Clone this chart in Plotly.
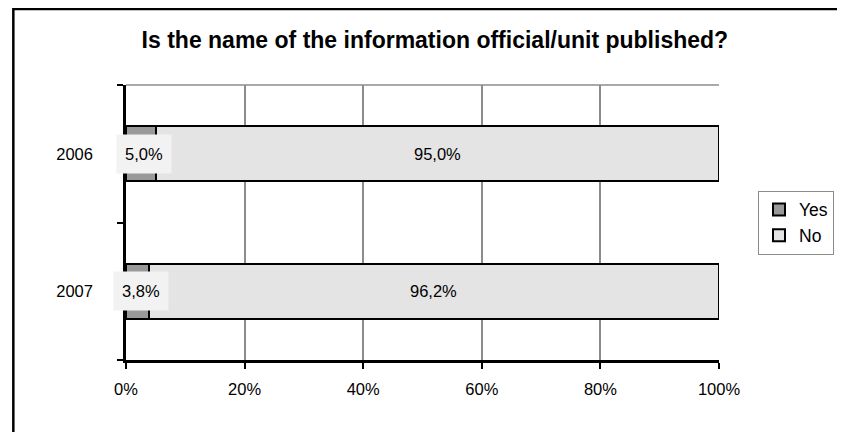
import plotly.graph_objects as go

years = ["2006", "2007"]
yes_pct = [5.0, 3.8]
no_pct = [95.0, 96.2]
x_ticks = [0, 20, 40, 60, 80, 100]

FONT = "Liberation Sans, Arial, sans-serif"
YES_COL = "#999999"
NO_COL = "#e4e4e4"
GRID = "#8c8c8c"


def fmt(v):
    return f"{v:.1f}".replace(".", ",") + "%"


# numeric positions, 2006 on top
ypos = [1, 0]

fig = go.Figure()
fig.add_trace(go.Bar(
    y=ypos, x=yes_pct, name="Yes", orientation="h", width=0.4,
    marker=dict(color=YES_COL, line=dict(color="black", width=2)),
))
fig.add_trace(go.Bar(
    y=ypos, x=no_pct, name="No", orientation="h", width=0.4,
    marker=dict(color=NO_COL, line=dict(color="black", width=2)),
))

# data labels
for yp, a, b in zip(ypos, yes_pct, no_pct):
    fig.add_annotation(x=a / 2 + 0.6, y=yp, text=fmt(a), showarrow=False,
                       bgcolor="#f2f2f2", borderpad=1, width=52, height=36,
                       font=dict(family=FONT, size=16.5, color="black"))
    fig.add_annotation(x=a + b / 2, y=yp, text=fmt(b), showarrow=False,
                       font=dict(family=FONT, size=16.5, color="black"))

# gray top edge of plot area
fig.add_shape(type="line", xref="paper", yref="paper", x0=0, x1=1, y0=1, y1=1,
              line=dict(color=GRID, width=1.5))
# outer chart frame (left/top visible)
fig.add_shape(type="rect", xref="paper", yref="paper", x0=-0.19, x1=1.4,
              y0=-0.5, y1=1.276, line=dict(color="black", width=2.5),
              fillcolor="rgba(0,0,0,0)", layer="above")

fig.update_layout(
    width=837, height=424,
    paper_bgcolor="white", plot_bgcolor="white",
    barmode="stack",
    font=dict(family=FONT, size=16.5, color="black"),
    title=dict(text="<b>Is the name of the information official/unit published?</b>",
               x=0.51, xref="container", xanchor="center",
               y=1 - 32 / 424, yref="container", yanchor="middle",
               font=dict(family=FONT, size=23, color="black")),
    margin=dict(l=118, r=125, t=77, b=72),
    showlegend=True,
    legend=dict(x=1.064, y=0.5, xanchor="left", yanchor="middle",
                bordercolor=GRID, borderwidth=1, bgcolor="white",
                font=dict(family=FONT, size=17.5), itemwidth=30,
                tracegroupgap=0, traceorder="normal"),
    xaxis=dict(range=[0, 100], tickvals=x_ticks,
               ticktext=[f"{t}%" for t in x_ticks],
               showgrid=True, gridcolor=GRID, gridwidth=1.5,
               showline=True, linecolor="black", linewidth=2.5,
               ticks="outside", ticklen=6, tickwidth=2, tickcolor="black",
               ticklabelstandoff=6, zeroline=False, fixedrange=True),
    yaxis=dict(range=[-0.5, 1.5], tickvals=ypos, ticktext=years,
               showgrid=False, zeroline=False,
               showline=True, linecolor="black", linewidth=2.5,
               ticks="", ticklabelstandoff=27,
               minor=dict(tickvals=[-0.5, 0.5, 1.5], ticks="outside",
                          ticklen=6, tickwidth=2, tickcolor="black",
                          showgrid=False),
               fixedrange=True),
)

fig.write_html("out.html")
